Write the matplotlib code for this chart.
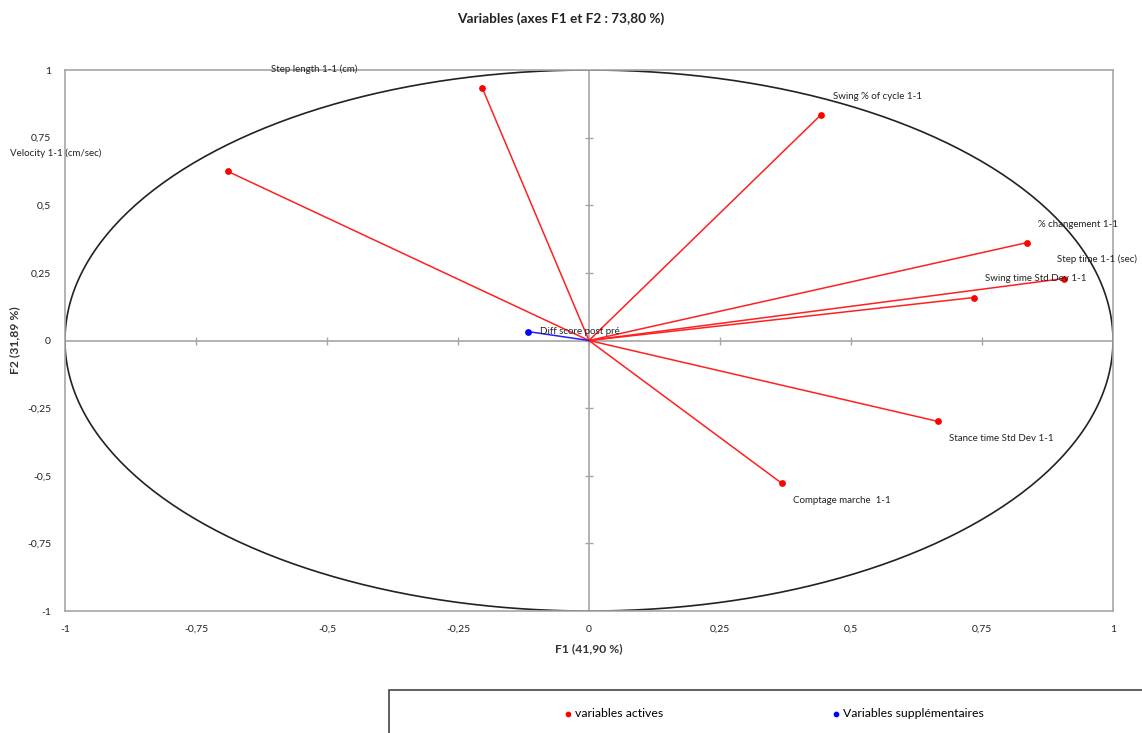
import numpy as np
import matplotlib
matplotlib.use('Agg')
import matplotlib.pyplot as plt
from matplotlib.patches import Rectangle

plt.rcParams['font.family'] = ['Lato', 'DejaVu Sans']

# variables actives (coordonnees F1 / F2)
act_names = ['Step length 1-1 (cm)', 'Velocity 1-1 (cm/sec)', 'Swing % of cycle 1-1',
             '% changement 1-1', 'Step time 1-1 (sec)', 'Swing time Std Dev 1-1',
             'Stance time Std Dev 1-1', 'Comptage marche  1-1']
act_f1 = [-0.204, -0.689, 0.443, 0.836, 0.906, 0.735, 0.666, 0.368]
act_f2 = [0.935, 0.625, 0.835, 0.362, 0.229, 0.159, -0.299, -0.528]

# variables supplementaires
sup_names = ['Diff score post pré']
sup_f1 = [-0.116]
sup_f2 = [0.033]

ticks = [-1, -0.75, -0.5, -0.25, 0, 0.25, 0.5, 0.75, 1]
tick_labels = ['-1', '-0,75', '-0,5', '-0,25', '0', '0,25', '0,5', '0,75', '1']

# decalage des etiquettes en pixels (dx vers la droite, dy vers le haut)
act_offsets = [(-211, 18), (-218, 18), (12, 18), (11, 18), (-7, 19), (11, 19), (11, -17), (11, -17)]
sup_offsets = [(12, 0)]

fig = plt.figure(figsize=(11.42, 7.33), dpi=100)
ax = fig.add_axes([0.0569, 0.1664, 0.9177, 0.7381])
ax.set_xlim(-1, 1)
ax.set_ylim(-1, 1)

grey = '#a6a6a6'
for s in ax.spines.values():
    s.set_color(grey)
    s.set_linewidth(1.2)

# axes a zero avec petites graduations
ax.axhline(0, color=grey, lw=1.2, zorder=1)
ax.axvline(0, color=grey, lw=1.2, zorder=1)
ax.plot(ticks[1:-1], [0] * 7, ls='none', marker='|', ms=6, mew=1, color=grey, zorder=1)
ax.plot([0] * 7, ticks[1:-1], ls='none', marker='_', ms=6, mew=1, color=grey, zorder=1)

# cercle des correlations
t = np.linspace(0, 2 * np.pi, 400)
ax.plot(np.cos(t), np.sin(t), color='#222222', lw=1.2, zorder=2)

for x, y in zip(act_f1, act_f2):
    ax.plot([0, x], [0, y], color='#ff2020', lw=1.1, zorder=3)
for x, y in zip(sup_f1, sup_f2):
    ax.plot([0, x], [0, y], color='#2020ff', lw=1.1, zorder=3)
h_act = ax.scatter(act_f1, act_f2, s=15, color='#ff0000', zorder=4, label='variables actives')
h_sup = ax.scatter(sup_f1, sup_f2, s=15, color='#0000ff', zorder=4, label='Variables supplémentaires')

for name, x, y, (dx, dy) in zip(act_names, act_f1, act_f2, act_offsets):
    ax.annotate(name, (x, y), xytext=(dx * 0.72, dy * 0.72), textcoords='offset points',
                ha='left', va='center', fontsize=7, color='#222222', annotation_clip=False, zorder=5)
for name, x, y, (dx, dy) in zip(sup_names, sup_f1, sup_f2, sup_offsets):
    ax.annotate(name, (x, y), xytext=(dx * 0.72, dy * 0.72), textcoords='offset points',
                ha='left', va='center', fontsize=7, color='#222222', annotation_clip=False, zorder=5)

ax.set_xticks(ticks)
ax.set_xticklabels(tick_labels)
ax.set_yticks(ticks)
ax.set_yticklabels(tick_labels)
ax.tick_params(length=0, labelsize=7.5, colors='#222222', pad=10)

ax.set_xlabel('F1 (41,90 %)', fontsize=8.7, fontweight='bold', color='#333333', labelpad=7)
ax.set_ylabel('F2 (31,89 %)', fontsize=8.7, fontweight='bold', color='#333333', labelpad=5)
fig.text(0.491, 0.975, 'Variables (axes F1 et F2 : 73,80 %)', ha='center', va='center',
         fontsize=9.8, fontweight='bold', color='#222222')

# cadre de la legende
fig.add_artist(Rectangle((389 / 1142, -0.05), 0.7, (733 - 690) / 733 + 0.05,
                         transform=fig.transFigure, fill=False, edgecolor='#444444', lw=1.2))
fig.legend(handles=[h_act, h_sup], loc='center', bbox_to_anchor=(0.678, 0.026), ncol=2,
           frameon=False, fontsize=8.8, markerscale=0.8, handlelength=0.6, handletextpad=0.3,
           columnspacing=13.8)

fig.savefig('out.png', dpi=100)
